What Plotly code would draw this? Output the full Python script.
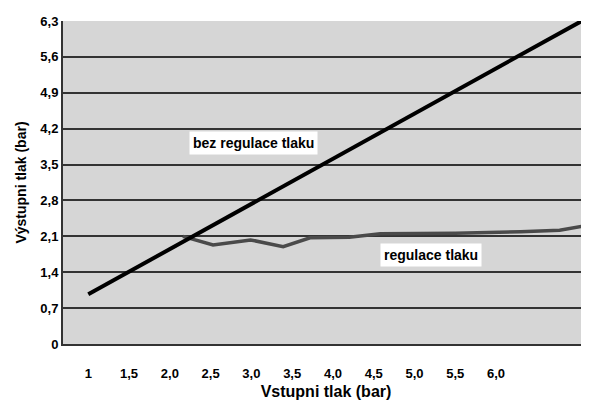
import plotly.graph_objects as go

# Data
x_bez = [1.0, 7.05]
y_bez = [0.97, 6.3]

x_reg = [2.16, 2.53, 2.99, 3.39, 3.72, 4.20, 4.58, 5.50, 6.30, 6.78, 7.14]
y_reg = [2.10, 1.93, 2.03, 1.90, 2.07, 2.08, 2.15, 2.16, 2.19, 2.22, 2.32]

x_tickvals = [1.0, 1.5, 2.0, 2.5, 3.0, 3.5, 4.0, 4.5, 5.0, 5.5, 6.0]
x_ticktext = ["1", "1,5", "2,0", "2,5", "3,0", "3,5", "4,0", "4,5", "5,0", "5,5", "6,0"]
y_tickvals = [0, 0.7, 1.4, 2.1, 2.8, 3.5, 4.2, 4.9, 5.6, 6.3]
y_ticktext = ["0", "0,7", "1,4", "2,1", "2,8", "3,5", "4,2", "4,9", "5,6", "6,3"]

font_family = "Liberation Sans, Arial, sans-serif"

fig = go.Figure()
fig.add_trace(go.Scatter(x=x_reg, y=y_reg, mode="lines",
                         line=dict(color="#4a4a4a", width=3.5), showlegend=False))
fig.add_trace(go.Scatter(x=x_bez, y=y_bez, mode="lines",
                         line=dict(color="#000000", width=4), showlegend=False))

fig.add_annotation(x=3.03, y=3.93, text="<b>bez regulace tlaku</b>", showarrow=False,
                   bgcolor="white", font=dict(size=14, color="black", family=font_family),
                   borderpad=3)
fig.add_annotation(x=5.20, y=1.74, text="<b>regulace tlaku</b>", showarrow=False,
                   bgcolor="white", font=dict(size=14, color="black", family=font_family),
                   borderpad=3)

fig.update_layout(
    width=589, height=408,
    margin=dict(l=55, r=8, t=13, b=72),
    paper_bgcolor="white",
    plot_bgcolor="#d6d6d6",
    font=dict(family=font_family, color="black"),
    xaxis=dict(
        range=[0.69, 7.14], automargin=False,
        tickmode="array", tickvals=x_tickvals, ticktext=x_ticktext,
        tickfont=dict(size=13, family=font_family, weight="bold"),
        ticklabelstandoff=16,
        showgrid=False, zeroline=False,
        showline=True, linecolor="#333333", linewidth=2,
        title=dict(text="<b>Vstupni tlak (bar)</b>", font=dict(size=16, family=font_family), standoff=6),
    ),
    yaxis=dict(
        range=[0, 6.3], automargin=False,
        tickmode="array", tickvals=y_tickvals, ticktext=y_ticktext,
        tickfont=dict(size=13, family=font_family, weight="bold"),
        showgrid=True, gridcolor="#333333", gridwidth=2,
        zeroline=False,
        showline=True, linecolor="#333333", linewidth=2,
        title=dict(text="<b>Výstupni tlak (bar)</b>", font=dict(size=14, family=font_family), standoff=10),
    ),
)

fig.write_html("out.html")
